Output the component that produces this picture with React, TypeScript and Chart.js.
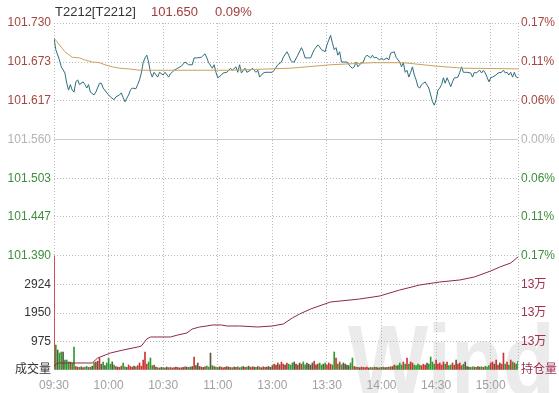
import React, { useEffect, useRef } from 'react';
import { Chart, registerables } from 'chart.js';
Chart.register(...registerables);

const FONT = "'Liberation Sans', 'Noto Sans CJK SC', sans-serif";

// ---------- data ----------
const prevSettle = 101.56;
const headerName = 'T2212[T2212]';
const headerPrice = '101.650';
const headerPct = '0.09%';

const priceTicks = [101.39, 101.447, 101.503, 101.56, 101.617, 101.673, 101.73];
const pctTickLabels = ['0.17%', '0.11%', '0.06%', '0.00%', '0.06%', '0.11%', '0.17%'];
const tickMinutes = [0, 30, 60, 90, 120, 150, 180, 210, 240, 255];
const timeLabels = ['09:30', '10:00', '10:30', '11:00', '13:00', '13:30', '14:00', '14:30', '15:00', ''];
const volTicks = [0, 975, 1950, 2924, 3900];
const volTickLabels = ['成交量', '975', '1950', '2924', ''];
const oiTicks = [129500, 130500, 131500, 132500, 133500];
const oiTickLabels = ['持仓量', '13万', '13万', '13万', ''];

const priceTimes = [
  0, 1, 3, 4, 6, 7, 8, 9, 10, 11, 12, 13, 14, 16, 17, 18, 19, 20, 22, 23, 25, 26, 27, 29, 30, 31, 33, 34, 36, 37, 38, 39,
  41, 42, 43, 45, 46, 47, 48, 49, 50, 51, 52, 53, 54, 55, 57, 58, 60, 61, 63, 64, 65, 66, 68, 70, 72, 74, 76, 77, 79, 81,
  83, 84, 85, 87, 88, 89, 90, 92, 93, 95, 97, 98, 100, 101, 102, 103, 105, 106, 108, 109, 111, 112, 113, 115, 116, 118,
  120, 121, 123, 125, 126, 128, 129, 130, 131, 132, 134, 136, 137, 138, 140, 141, 143, 145, 146, 147, 149, 150, 151, 152,
  153, 154, 155, 156, 157, 158, 160, 161, 163, 164, 165, 166, 167, 169, 170, 171, 172, 174, 175, 176, 177, 179, 180, 181,
  183, 184, 185, 187, 188, 190, 191, 192, 193, 194, 195, 196, 197, 198, 199, 200, 201, 202, 203, 204, 206, 207, 208, 209,
  210, 211, 212, 213, 214, 215, 216, 217, 218, 219, 220, 221, 222, 223, 224, 225, 226, 227, 229, 230, 231, 232, 234, 235,
  236, 237, 238, 239, 240, 241, 243, 244, 246, 247, 248, 249, 250, 251, 252, 253, 254, 255,
];
const priceValues = [
  101.708, 101.691, 101.676, 101.666, 101.657, 101.642, 101.632, 101.64, 101.632, 101.629, 101.644, 101.647, 101.64, 101.644,
  101.64, 101.635, 101.64, 101.629, 101.625, 101.629, 101.642, 101.642, 101.635, 101.628, 101.625, 101.622, 101.618, 101.622,
  101.625, 101.628, 101.621, 101.615,
  101.625, 101.632, 101.635, 101.634, 101.64, 101.647, 101.657, 101.672, 101.679, 101.683, 101.673, 101.658, 101.651, 101.658,
  101.651, 101.658, 101.654, 101.658, 101.651, 101.656, 101.658, 101.661, 101.664, 101.667, 101.673, 101.669, 101.669, 101.679,
  101.679, 101.68,
  101.685, 101.679, 101.672, 101.664, 101.669, 101.658, 101.65, 101.654, 101.657, 101.658, 101.664, 101.661, 101.666, 101.658,
  101.669, 101.657, 101.664, 101.658, 101.661, 101.664, 101.658, 101.661, 101.651, 101.657, 101.658, 101.658,
  101.658, 101.661, 101.669, 101.673, 101.68, 101.688, 101.683, 101.676, 101.673, 101.673, 101.683, 101.694, 101.688, 101.679,
  101.679, 101.679, 101.691, 101.698, 101.695, 101.691, 101.688, 101.698, 101.705, 101.712,
  101.701, 101.691, 101.694, 101.683, 101.688, 101.673, 101.673, 101.673, 101.666, 101.664, 101.666, 101.673, 101.666, 101.672,
  101.673, 101.68, 101.683, 101.679, 101.683, 101.679, 101.68, 101.676, 101.679, 101.676,
  101.679, 101.676, 101.686, 101.688, 101.68, 101.673, 101.666, 101.672, 101.658, 101.661, 101.651, 101.658, 101.666, 101.654,
  101.647, 101.637, 101.635, 101.64, 101.642, 101.644, 101.635, 101.625, 101.615, 101.61,
  101.618, 101.632, 101.635, 101.64, 101.65, 101.642, 101.65, 101.644, 101.637, 101.644, 101.65, 101.65, 101.651, 101.658,
  101.666, 101.658, 101.658, 101.658, 101.657, 101.651, 101.658, 101.657, 101.661, 101.657,
  101.661, 101.657, 101.651, 101.644, 101.65, 101.651, 101.654, 101.657, 101.658, 101.661, 101.657, 101.658, 101.654, 101.658,
  101.651, 101.658, 101.651, 101.65,
];

const avgTimes = [0, 3, 6, 10, 14, 17, 21, 25, 28, 32, 36, 41, 47, 54, 65, 97, 130, 152, 175, 192, 210, 225, 255];
const avgValues = [
  101.708, 101.698, 101.688, 101.68, 101.679, 101.676, 101.673, 101.672, 101.669, 101.666, 101.664, 101.663, 101.661,
  101.661, 101.661, 101.661, 101.664, 101.669, 101.672, 101.672, 101.667, 101.664, 101.663,
];

const volumes = [
  3950, 855, 684, 581, 616, 616, 342, 342, 274, 274,
  240, 787, 120, 100, 90, 110, 80, 100, 120, 90,
  100, 130, 250, 270, 300, 410, 200, 274, 150, 240,
  410, 200, 274, 171, 120, 100, 90, 130, 240, 110,
  90, 171, 120, 100, 130, 110, 150, 240, 130, 342,
  616, 200, 274, 410, 150, 171, 100, 80, 70, 90,
  80, 70, 100, 80, 90, 70, 80, 100, 90, 70,
  80, 90, 110, 100, 90, 100, 120, 445, 150, 240,
  120, 100, 90, 110, 130, 100, 581, 150, 120, 100,
  90, 110, 100, 80, 90, 120, 100, 90, 80, 100,
  90, 110, 80, 100, 120, 90, 100, 130, 90, 110,
  100, 90, 120, 100, 80, 110, 90, 100, 120, 90,
  150, 200, 170, 240, 180, 270, 200, 170, 240, 200,
  170, 240, 274, 200, 170, 240, 200, 274, 180, 240,
  200, 170, 240, 300, 180, 200, 240, 170, 200, 240,
  170, 240, 200, 170, 616, 410, 200, 274, 180, 240,
  200, 171, 150, 240, 410, 120, 100, 90, 80, 100,
  90, 80, 100, 70, 90, 80, 100, 90, 70, 80,
  90, 100, 80, 90, 100, 110, 120, 171, 140, 150,
  240, 170, 274, 200, 410, 200, 274, 240, 170, 150,
  200, 171, 150, 200, 170, 240, 200, 445, 274, 200,
  342, 200, 240, 170, 274, 200, 274, 150, 171, 240,
  170, 342, 200, 240, 150, 200, 274, 120, 100, 90,
  110, 100, 90, 120, 100, 110, 90, 130, 100, 150,
  240, 274, 200, 342, 170, 240, 200, 581, 200, 274,
  170, 342, 274, 240, 200, 300,
];

const oiTimes = [
  0, 2, 10, 21, 24, 31, 38, 46, 48, 51, 53, 64, 68, 73, 76, 80, 84, 87, 92, 95, 102, 112, 120, 126, 131, 135, 141, 152,
  168, 179, 190, 201, 212, 223, 231, 240, 245, 251, 255,
];
const oiValues = [
  129640, 129746, 129746, 129746, 129921, 130097, 130202, 130307, 130342, 130588, 130658, 130658, 130728, 130798, 130939,
  131009, 131044, 131079, 131079, 131044, 131044, 131009, 131044, 131114, 131325, 131465, 131640, 131886, 131991, 132097,
  132307, 132483, 132588, 132658, 132763, 132974, 133114, 133255, 133465,
];

// ---------- styles ----------
const GRID = '#b9b9b9';
const RED_TXT = '#a3463f';
const GREEN_TXT = '#3e8c3e';
const GRAY_TXT = '#b3b3b3';
const OI_TXT = '#a0304e';

function priceAt(m: number) {
  let v = priceValues[0];
  for (let k = 0; k < priceTimes.length; k++) {
    if (priceTimes[k] <= m) v = priceValues[k];
    else break;
  }
  return v;
}

function priceColor(v: number) {
  if (Math.abs(v - prevSettle) < 0.0005) return GRAY_TXT;
  return v > prevSettle ? RED_TXT : GREEN_TXT;
}

const fixedTicks = (vals: number[]) => (s: any) => {
  s.ticks = vals.map((v) => ({ value: v }));
};

export default function App() {
  const refA = useRef<HTMLCanvasElement>(null);
  const refB = useRef<HTMLCanvasElement>(null);

  useEffect(() => {
    document.body.style.margin = '0';
    const headerPlugin = {
      id: 'header',
      afterDraw(chart: any) {
        const ctx = chart.ctx;
        ctx.save();
        ctx.font = `13px ${FONT}`;
        ctx.textBaseline = 'middle';
        ctx.textAlign = 'left';
        ctx.fillStyle = '#333333';
        ctx.fillText(headerName, 55, 12);
        ctx.fillStyle = '#a03c3c';
        ctx.fillText(headerPrice, 151, 12);
        ctx.fillText(headerPct, 215, 12);
        ctx.restore();
      },
    };
    const centerLine = {
      id: 'centerLine',
      beforeDatasetsDraw(chart: any) {
        const { ctx, chartArea } = chart;
        const y = Math.round(chart.scales.yP.getPixelForValue(prevSettle)) + 0.5;
        ctx.save();
        ctx.strokeStyle = '#cccccc';
        ctx.lineWidth = 1;
        ctx.beginPath();
        ctx.moveTo(chartArea.left, y);
        ctx.lineTo(chartArea.right, y);
        ctx.stroke();
        ctx.restore();
      },
    };
    const watermark = {
      id: 'watermark',
      beforeDraw(chart: any) {
        const ctx = chart.ctx;
        ctx.save();
        ctx.fillStyle = '#ebebeb';
        ctx.font = `bold 100px ${FONT}`;
        ctx.textBaseline = 'alphabetic';
        ctx.translate(348, 155);
        ctx.scale(0.85, 1);
        ctx.fillText('Wind', 0, 0);
        ctx.restore();
      },
    };

    const tickFont = { size: 12, family: FONT };

    const a = new Chart(refA.current!, {
      type: 'line',
      data: {
        datasets: [
          {
            data: avgTimes.map((t, i) => ({ x: t, y: avgValues[i] })),
            borderColor: '#c9a15a',
            borderWidth: 1,
            pointRadius: 0,
            yAxisID: 'yP',
          },
          {
            data: priceTimes.map((t, i) => ({ x: t, y: priceValues[i] })),
            borderColor: '#2e6e7e',
            borderWidth: 1,
            pointRadius: 0,
            yAxisID: 'yP',
          },
        ],
      },
      options: {
        responsive: false,
        animation: false,
        events: [],
        layout: { padding: { top: 23, bottom: 10, left: 0, right: 0 } },
        plugins: { legend: { display: false }, tooltip: { enabled: false } },
        scales: {
          x: {
            type: 'linear',
            min: 0,
            max: 255,
            offset: false,
            afterBuildTicks: fixedTicks(tickMinutes),
            ticks: { display: false },
            grid: { color: GRID, drawTicks: false, offset: false },
            border: { display: false, dash: [1, 2] },
            afterFit: (s: any) => {
              s.height = 0;
            },
          },
          yP: {
            type: 'linear',
            position: 'left',
            min: 101.39,
            max: 101.73,
            afterBuildTicks: fixedTicks(priceTicks),
            ticks: {
              padding: 3,
              font: tickFont,
              color: (c: any) => priceColor(c.tick.value),
              callback: (v: any) => Number(v).toFixed(3),
            },
            grid: { color: GRID, drawTicks: false },
            border: { display: false, dash: [1, 2] },
            afterFit: (s: any) => {
              s.width = 54;
            },
          },
          yR: {
            type: 'linear',
            position: 'right',
            min: 101.39,
            max: 101.73,
            afterBuildTicks: fixedTicks(priceTicks),
            ticks: {
              padding: 3,
              font: tickFont,
              color: (c: any) => priceColor(c.tick.value),
              callback: (_v: any, i: number) => pctTickLabels[i],
            },
            grid: { drawOnChartArea: false, drawTicks: false },
            border: { display: false },
            afterFit: (s: any) => {
              s.width = 41;
            },
          },
        },
      },
      plugins: [headerPlugin, centerLine],
    } as any);

    const barColors = volumes.map((_, i) => {
      if (i === 0) return '#cc3333';
      const d = priceAt(i) - priceAt(i - 1);
      if (d > 0) return '#cc3333';
      if (d < 0) return '#2f9a2f';
      return '#5a5a3a';
    });

    const b = new Chart(refB.current!, {
      type: 'bar',
      data: {
        datasets: [
          {
            type: 'line',
            data: oiTimes.map((t, i) => ({ x: t, y: oiValues[i] })),
            borderColor: '#8c2a45',
            borderWidth: 1,
            pointRadius: 0,
            yAxisID: 'yOI',
            order: 0,
          },
          {
            type: 'bar',
            data: volumes.map((v, i) => ({ x: i, y: v })),
            backgroundColor: barColors,
            borderWidth: 0,
            barThickness: 1,
            yAxisID: 'yV',
            order: 1,
          },
        ],
      },
      options: {
        responsive: false,
        animation: false,
        events: [],
        layout: { padding: { top: 16, bottom: 0, left: 0, right: 0 } },
        plugins: { legend: { display: false }, tooltip: { enabled: false } },
        scales: {
          x: {
            type: 'linear',
            min: 0,
            max: 255,
            offset: false,
            afterBuildTicks: fixedTicks(tickMinutes),
            ticks: {
              padding: 8,
              font: tickFont,
              color: '#a0a0a0',
              autoSkip: false,
              maxRotation: 0,
              callback: (_v: any, i: number) => timeLabels[i],
            },
            grid: { color: GRID, drawTicks: false, offset: false },
            border: { display: false, dash: [1, 2] },
            afterFit: (s: any) => {
              s.height = 24;
            },
          },
          yV: {
            type: 'linear',
            position: 'left',
            min: 0,
            max: 3900,
            afterBuildTicks: fixedTicks(volTicks),
            ticks: {
              padding: 3,
              font: tickFont,
              color: '#333333',
              callback: (_v: any, i: number) => volTickLabels[i],
            },
            grid: {
              color: (c: any) => (c.index === 0 || c.index === volTicks.length - 1 ? 'rgba(0,0,0,0)' : GRID),
              drawTicks: false,
            },
            border: { display: false, dash: [1, 2] },
            afterFit: (s: any) => {
              s.width = 54;
            },
          },
          yOI: {
            type: 'linear',
            position: 'right',
            min: 129500,
            max: 133500,
            afterBuildTicks: fixedTicks(oiTicks),
            ticks: {
              padding: 3,
              font: tickFont,
              color: OI_TXT,
              callback: (_v: any, i: number) => oiTickLabels[i],
            },
            grid: { drawOnChartArea: false, drawTicks: false },
            border: { display: false },
            afterFit: (s: any) => {
              s.width = 41;
            },
          },
        },
      },
      plugins: [watermark],
    } as any);

    return () => {
      a.destroy();
      b.destroy();
    };
  }, []);

  return (
    <div
      style={{
        position: 'fixed',
        left: 0,
        top: 0,
        width: 559,
        height: 393,
        background: '#ffffff',
        overflow: 'hidden',
      }}
    >
      <canvas
        ref={refA}
        width={559}
        height={266}
        style={{ position: 'absolute', left: 0, top: 0, width: 559, height: 266 }}
      />
      <canvas
        ref={refB}
        width={559}
        height={154}
        style={{ position: 'absolute', left: 0, top: 240, width: 559, height: 154 }}
      />
    </div>
  );
}
